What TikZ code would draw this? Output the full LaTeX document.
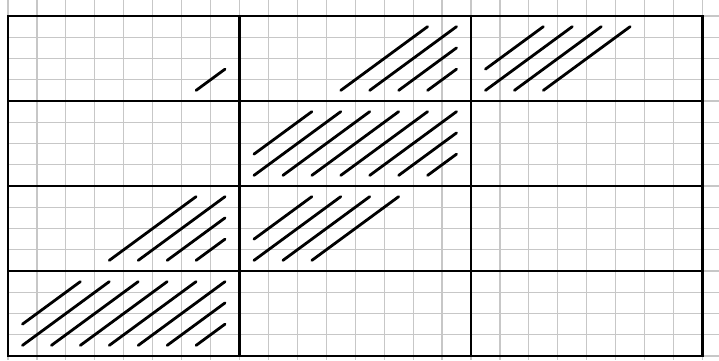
\documentclass[tikz,border=0pt]{standalone}
\usepackage{tikz}
\tikzset{
  gridline/.style={draw=black!22, line width=1.2pt},
  blockline/.style={draw=black, line width=2.3pt},
  hatchstroke/.style={draw=black, line width=2.8pt, line cap=round}
}
\newcommand{\hatchblock}[3]{%
  \foreach \c in {#3}{%
    \pgfmathsetmacro\su{max(\c+0.5,0.5)}%
    \pgfmathsetmacro\eu{min(\c+3.5,7.5)}%
    \draw[hatchstroke] ({8*#1+\su},{4*#2+4-(\su-\c)}) -- ({8*#1+\eu},{4*#2+4-(\eu-\c)});
  }%
}
\begin{document}
\begin{tikzpicture}[x=28.9375pt, y=-21.25pt]
  \useasboundingbox[fill=white] (-8pt,16pt) rectangle (711pt,-344pt);
  % light grid
  \foreach \i in {0,...,24}{\draw[gridline] (\i,-0.76) -- (\i,16.2);}
  \foreach \j in {0,...,16}{\draw[gridline] (0,\j) -- (24.6,\j);}
  % block lines
  \draw[blockline] (0,0) rectangle (24,16);
  \foreach \i in {8,16}{\draw[blockline] (\i,0) -- (\i,16);}
  \foreach \j in {4,8,12}{\draw[blockline] (0,\j) -- (24,\j);}
  % hatching
  \hatchblock{0}{0}{6}
  \hatchblock{1}{0}{3,4,5,6}
  \hatchblock{2}{0}{-1,0,1,2}
  \hatchblock{1}{1}{-1,0,1,2,3,4,5,6}
  \hatchblock{0}{2}{3,4,5,6}
  \hatchblock{1}{2}{-1,0,1,2}
  \hatchblock{0}{3}{-1,0,1,2,3,4,5,6}
\end{tikzpicture}
\end{document}
